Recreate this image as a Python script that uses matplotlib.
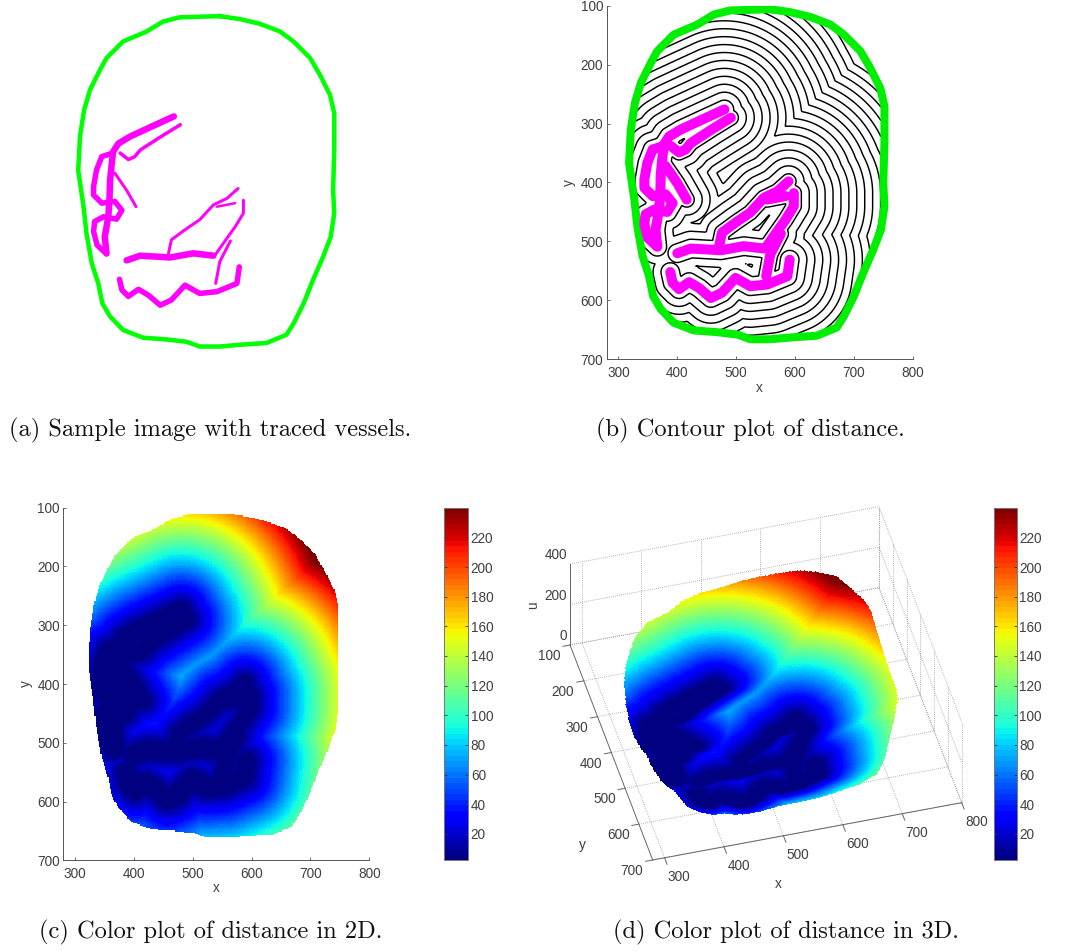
import numpy as np
import matplotlib
matplotlib.use('Agg')
import matplotlib.pyplot as plt
from matplotlib.path import Path

W, H = 1082, 951

# contorno y vasos trazados, en coordenadas de la imagen
outline_x = [558, 592, 626, 660, 683, 711, 728, 745, 752, 752, 750, 752, 746, 733, 716, 700, 683, 671, 637, 592, 558, 524, 502, 468, 428, 394, 372, 359, 352, 341, 332, 327, 318, 321, 328, 338, 355, 366, 394, 434, 462, 490, 524, 558]
outline_y = [106, 111, 119, 132, 149, 177, 206, 240, 271, 333, 401, 440, 480, 514, 553, 593, 627, 646, 660, 663, 666, 666, 658, 654, 651, 638, 615, 593, 559, 525, 474, 429, 367, 310, 265, 231, 197, 177, 149, 132, 115, 108, 107, 106]

v1_x = [480, 445, 406, 386, 377, 375, 372, 371, 369, 363, 366]
v1_y = [276, 292, 310, 322, 336, 355, 384, 418, 446, 480, 508]
v2_x = [491, 457, 423, 414, 403, 389]
v2_y = [290, 311, 333, 344, 349, 338]
v3_x = [377, 358, 349, 344, 344, 358, 380, 392, 383, 361, 346, 344, 350, 366]
v3_y = [338, 344, 367, 395, 409, 423, 420, 435, 450, 446, 454, 471, 494, 509]
v4_x = [380, 400, 416]
v4_y = [372, 401, 429]
v5_x = [400, 423, 474, 513, 547]
v5_y = [520, 512, 515, 508, 512]
v6_x = [471, 476, 499, 524, 547, 570, 589]
v6_y = [508, 485, 468, 451, 426, 415, 398]
v7_x = [553, 584]
v7_y = [429, 423]
v8_x = [598, 598, 584, 564, 550]
v8_y = [418, 440, 463, 491, 511]
v9_x = [576, 558, 551]
v9_y = [487, 522, 559]
v10_x = [388, 392, 403, 420, 437, 457, 476, 499, 524, 553, 587, 591]
v10_y = [552, 570, 581, 569, 579, 596, 587, 562, 576, 573, 559, 531]

vessels = [(v1_x, v1_y), (v2_x, v2_y), (v3_x, v3_y), (v4_x, v4_y), (v5_x, v5_y),
           (v6_x, v6_y), (v7_x, v7_y), (v8_x, v8_y), (v9_x, v9_y), (v10_x, v10_y)]
thin_widths = [6.5, 3.5, 5.5, 3, 6.5, 3, 2.5, 3, 3, 5.5]
vessel_radius = [10, 7, 10, 7, 10, 7, 7, 7, 7, 10]

x_ticks = [300, 400, 500, 600, 700, 800]
y_ticks = [100, 200, 300, 400, 500, 600, 700]
u_ticks = [0, 200, 400]
cbar_ticks = [20, 40, 60, 80, 100, 120, 140, 160, 180, 200, 220]
u_min, u_max = 2.2, 240

captions = ['(a) Sample image with traced vessels.', '(b) Contour plot of distance.',
            '(c) Color plot of distance in 2D.', '(d) Color plot of distance in 3D.']

TICK_COLOR = '#404040'
plt.rcParams['font.family'] = 'Liberation Sans'
plt.rcParams['font.size'] = 9.8


def add_ax(x0, y0, x1, y1):
    return fig.add_axes([x0 / W, 1 - y1 / H, (x1 - x0) / W, (y1 - y0) / H])


def px(v):
    return v * 0.72


def poly_dist(vx, vy, X, Y):
    d = np.full(X.shape, 1e9)
    for i in range(len(vx) - 1):
        x0, y0, x1, y1 = vx[i], vy[i], vx[i + 1], vy[i + 1]
        t = ((X - x0) * (x1 - x0) + (Y - y0) * (y1 - y0)) / ((x1 - x0) ** 2 + (y1 - y0) ** 2)
        t = np.clip(t, 0, 1)
        d = np.minimum(d, np.hypot(X - x0 - t * (x1 - x0), Y - y0 - t * (y1 - y0)))
    return d


# campo de distancia a los vasos
xs = np.arange(280, 802, 2.0)
ys = np.arange(100, 702, 2.0)
X, Y = np.meshgrid(xs, ys)
dist = np.full(X.shape, 1e9)
for (vx, vy), r in zip(vessels, vessel_radius):
    dist = np.minimum(dist, poly_dist(vx, vy, X, Y) - r)
dist = np.clip(dist * 1.04, u_min, None)
inside = Path(np.column_stack([outline_x, outline_y])).contains_points(
    np.column_stack([X.ravel(), Y.ravel()])).reshape(X.shape)
inside &= poly_dist(outline_x, outline_y, X, Y) > 4
U = np.ma.masked_where(~inside, dist)

cmap = plt.get_cmap('jet', 64)
fig = plt.figure(figsize=(W / 100, H / 100), dpi=100)


def style_axes(ax, xlabel_y, ylabel_x):
    ax.set_xlim(280, 800)
    ax.set_ylim(700, 100)
    ax.set_xticks(x_ticks)
    ax.set_yticks(y_ticks)
    for s in ['top', 'right']:
        ax.spines[s].set_visible(False)
    for s in ['left', 'bottom']:
        ax.spines[s].set_color('#555555')
        ax.spines[s].set_linewidth(0.7)
    ax.tick_params(axis='x', direction='in', length=2.5, width=0.6, color='#555555', labelcolor=TICK_COLOR, pad=5)
    ax.tick_params(axis='y', direction='in', length=2.5, width=0.6, color='#555555', labelcolor=TICK_COLOR, pad=2.5)
    ax.set_xlabel('x', color=TICK_COLOR)
    ax.set_ylabel('y', color=TICK_COLOR)
    ax.xaxis.set_label_coords(0.5, xlabel_y)
    ax.yaxis.set_label_coords(ylabel_x, 0.5)


def add_cbar(mesh, x0, x1):
    cax = add_ax(x0, 507.7, x1, 860.3)
    cb = fig.colorbar(mesh, cax=cax)
    cb.set_ticks(cbar_ticks)
    cb.ax.tick_params(direction='in', length=2.5, width=0.6, left=True, right=True, color='#333333',
                      labelcolor=TICK_COLOR, pad=2)
    cb.outline.set_edgecolor('#777777')
    cb.outline.set_linewidth(0.7)


# (a) imagen con los vasos trazados
ax_a = add_ax(55.8, 12.6, 362.6, 366.6)
ax_a.set_xlim(280, 800)
ax_a.set_ylim(700, 100)
ax_a.axis('off')
ax_a.plot(outline_x, outline_y, color='#00ff00', lw=px(4.5), solid_joinstyle='round')
for (vx, vy), w in zip(vessels, thin_widths):
    ax_a.plot(vx, vy, color='#ff00ff', lw=px(w), solid_capstyle='round', solid_joinstyle='round')

# (b) contornos
ax_b = add_ax(606.7, 5.7, 912.7, 359.3)
style_axes(ax_b, -0.06, -0.099)
ax_b.contour(X, Y, U, levels=np.arange(6, 240, 14), colors='k', linewidths=1.05)
ax_b.plot(outline_x, outline_y, color='#00ee00', lw=px(8), solid_joinstyle='round')
for vx, vy in vessels:
    ax_b.plot(vx, vy, color='#ff00ff', lw=px(10), solid_capstyle='round', solid_joinstyle='round')

# (c) color en 2D
ax_c = add_ax(63.3, 507.7, 369.3, 860.3)
style_axes(ax_c, -0.06, -0.099)
mesh_c = ax_c.pcolormesh(X, Y, U, cmap=cmap, vmin=u_min, vmax=u_max, shading='nearest')
add_cbar(mesh_c, 444, 468)

ax_d = fig.add_axes([0, 0, 1, 1])
ax_d.set_xlim(0, W)
ax_d.set_ylim(H, 0)
ax_d.axis('off')
ax_d.patch.set_alpha(0)


def proj(x, y, u):
    x = np.asarray(x, dtype=float)
    y = np.asarray(y, dtype=float)
    u = np.asarray(u, dtype=float)
    sx = 120 + (x - 280) / 520 * 927 + (y - 100) / 600 * 248
    sy = 465 - (x - 280) / 520 * 172 + (y - 100) / 600 * 645 - u / 400 * 243
    return 530 + sx / 3, 490 + sy / 3


def line3(p, q, **kw):
    a = proj(*p)
    b = proj(*q)
    ax_d.plot([a[0], b[0]], [a[1], b[1]], **kw)


grid_kw = dict(color='#999999', lw=0.6, ls=(0, (1, 1.5)))
solid_kw = dict(color='#666666', lw=0.7)
for xv in x_ticks:
    line3((xv, 100, 0), (xv, 700, 0), **grid_kw)
    line3((xv, 100, 0), (xv, 100, 400), **grid_kw)
for yv in y_ticks:
    line3((280, yv, 0), (800, yv, 0), **grid_kw)
    line3((800, yv, 0), (800, yv, 400), **grid_kw)
for uv in u_ticks:
    line3((280, 100, uv), (800, 100, uv), **grid_kw)
    line3((800, 100, uv), (800, 700, uv), **grid_kw)
line3((280, 100, 0), (280, 700, 0), **solid_kw)
line3((280, 700, 0), (800, 700, 0), **solid_kw)
line3((280, 100, 0), (280, 100, 400), **solid_kw)
for xv in x_ticks:
    px0, py0 = proj(xv, 700, 0)
    ax_d.plot([px0, px0 + 2.5], [py0, py0 + 6.5], **solid_kw)
    ax_d.text(px0 + 14.7, py0 + 19, str(xv), ha='center', va='center', color=TICK_COLOR)
for yv in y_ticks:
    px0, py0 = proj(280, yv, 0)
    ax_d.plot([px0, px0 - 7], [py0, py0 + 1.3], **solid_kw)
    ax_d.text(px0 - 20.7, py0 + 11, str(yv), ha='center', va='center', color=TICK_COLOR)
for uv in u_ticks:
    px0, py0 = proj(280, 100, uv)
    ax_d.text(px0 - 3, py0 - 9, str(uv), ha='right', va='center', color=TICK_COLOR)

# la malla se proyecta en sus nodos; filas de atras hacia delante
SX, SY = proj(X, Y, dist)
mesh_d = ax_d.pcolormesh(SX, SY, U[:-1, :-1], cmap=cmap, vmin=u_min, vmax=u_max, shading='flat', zorder=3)
add_cbar(mesh_d, 993.7, 1016.7)

ax_d.text(778.5, 884, 'x', ha='center', va='center', color=TICK_COLOR)
ax_d.text(582, 845, 'y', ha='center', va='center', color=TICK_COLOR)
ax_d.text(533, 605, 'u', ha='center', va='center', rotation=90, color=TICK_COLOR)

# pies de figura
cap_pos = [(9, 430), (596, 430), (39, 932), (613, 932)]
for s, (cx, cy) in zip(captions, cap_pos):
    ax_d.text(cx, cy, s, family='cmr10', fontsize=17.6, ha='left', va='center', color='#111111')

fig.savefig('out.png', dpi=100)
